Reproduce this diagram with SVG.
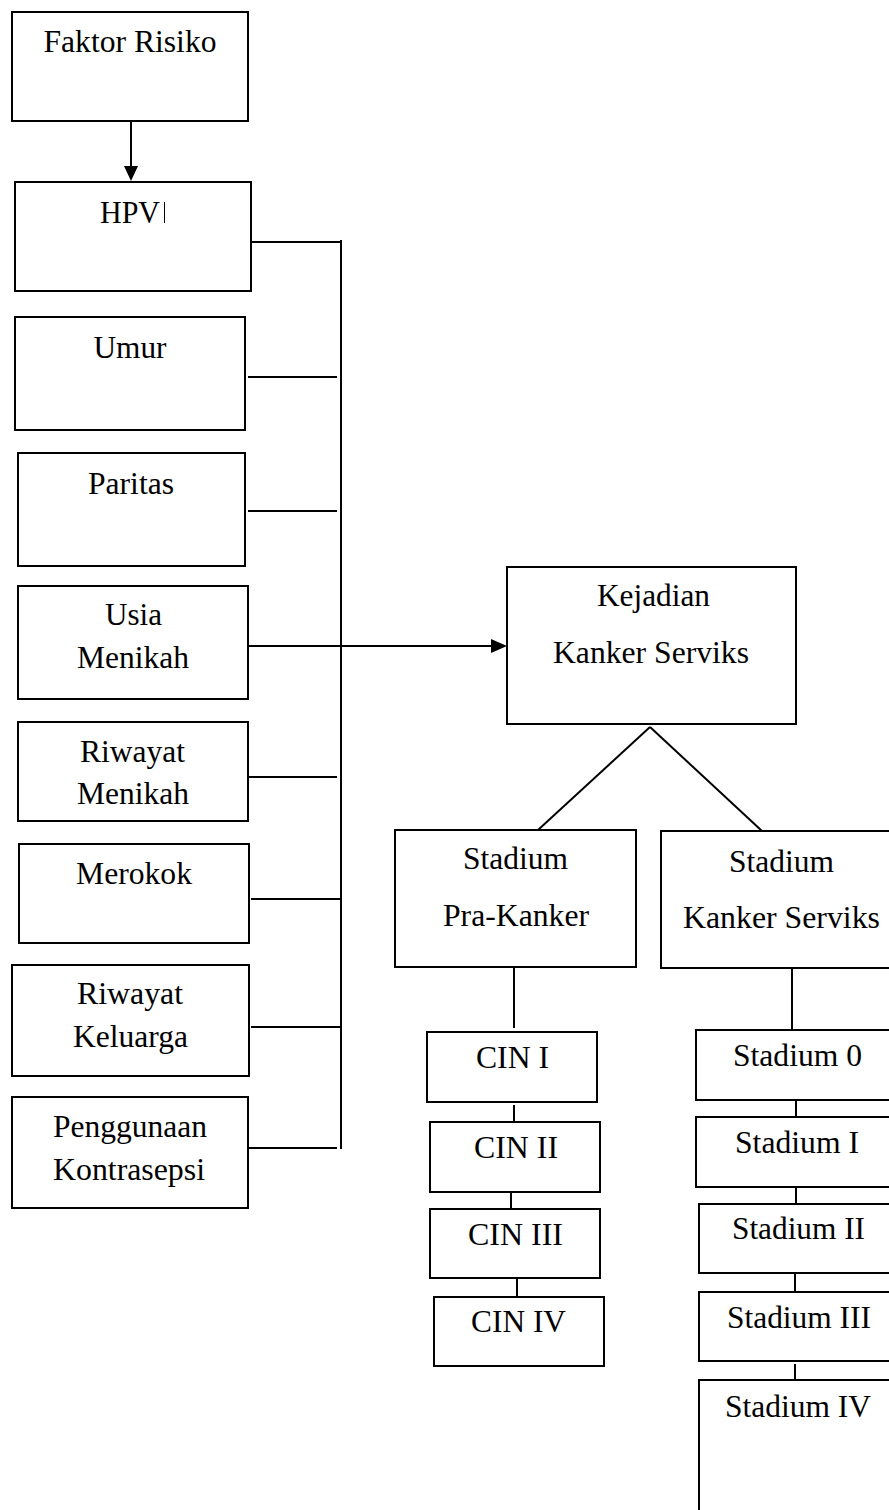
<svg xmlns="http://www.w3.org/2000/svg" width="889" height="1510" viewBox="0 0 889 1510">
<defs>
<style>
.box{fill:#fff;stroke:#000;stroke-width:2}
.t{font-family:"Liberation Serif","Times New Roman",serif;font-size:31px;fill:#000;text-anchor:middle}
.c{stroke:#000;stroke-width:2;fill:none}
</style>
</defs>
<rect width="889" height="1510" fill="#fff"/>

<g id="connectors">
<line class="c" x1="131" y1="121" x2="131" y2="166"/>
<path d="M124,166 L138,166 L131,181 Z" fill="#000"/>
<line class="c" x1="251" y1="242" x2="341" y2="242"/>
<line class="c" x1="341" y1="240" x2="341" y2="1149" stroke-width="2.5"/>
<line class="c" x1="248" y1="377" x2="337" y2="377"/>
<line class="c" x1="248" y1="511" x2="337" y2="511"/>
<line class="c" x1="248" y1="646" x2="492" y2="646"/>
<path d="M491,639 L507,646 L491,653 Z" fill="#000"/>
<line class="c" x1="248" y1="777" x2="337" y2="777"/>
<line class="c" x1="251" y1="899" x2="341" y2="899"/>
<line class="c" x1="251" y1="1027" x2="341" y2="1027"/>
<line class="c" x1="248" y1="1148" x2="337" y2="1148"/>
<line class="c" x1="650" y1="727" x2="538" y2="830" stroke-width="1.6"/>
<line class="c" x1="650" y1="727" x2="762" y2="831" stroke-width="1.6"/>
<line class="c" x1="514" y1="967" x2="514" y2="1028"/>
<line class="c" x1="514" y1="1105" x2="514" y2="1122"/>
<line class="c" x1="511" y1="1192" x2="511" y2="1209"/>
<line class="c" x1="517" y1="1278" x2="517" y2="1297"/>
<line class="c" x1="792" y1="968" x2="792" y2="1030"/>
<line class="c" x1="796" y1="1100" x2="796" y2="1117"/>
<line class="c" x1="796" y1="1187" x2="796" y2="1204"/>
<line class="c" x1="795" y1="1273" x2="795" y2="1292"/>
<line class="c" x1="795" y1="1364" x2="795" y2="1380"/>
</g>

<g id="faktor-risiko">
<rect class="box" x="12" y="12" width="236" height="109"/>
<text class="t" x="130" y="52" textLength="173" lengthAdjust="spacingAndGlyphs">Faktor Risiko</text>
</g>
<g id="hpv">
<rect class="box" x="15" y="182" width="236" height="109"/>
<text class="t" x="130" y="223" textLength="60" lengthAdjust="spacingAndGlyphs">HPV</text>
<line x1="164.5" y1="202" x2="164.5" y2="223" stroke="#000" stroke-width="1"/>
</g>
<g id="umur">
<rect class="box" x="15" y="317" width="230" height="113"/>
<text class="t" x="130" y="358" textLength="73" lengthAdjust="spacingAndGlyphs">Umur</text>
</g>
<g id="paritas">
<rect class="box" x="18" y="453" width="227" height="113"/>
<text class="t" x="131" y="494" textLength="86" lengthAdjust="spacingAndGlyphs">Paritas</text>
</g>
<g id="usia-menikah">
<rect class="box" x="18" y="586" width="230" height="113"/>
<text class="t" x="133.5" y="625" textLength="57" lengthAdjust="spacingAndGlyphs">Usia</text>
<text class="t" x="133" y="668" textLength="112" lengthAdjust="spacingAndGlyphs">Menikah</text>
</g>
<g id="riwayat-menikah">
<rect class="box" x="18" y="722" width="230" height="99"/>
<text class="t" x="132.5" y="762" textLength="105" lengthAdjust="spacingAndGlyphs">Riwayat</text>
<text class="t" x="133" y="804" textLength="112" lengthAdjust="spacingAndGlyphs">Menikah</text>
</g>
<g id="merokok">
<rect class="box" x="19" y="844" width="230" height="99"/>
<text class="t" x="134" y="884" textLength="116" lengthAdjust="spacingAndGlyphs">Merokok</text>
</g>
<g id="riwayat-keluarga">
<rect class="box" x="12" y="965" width="237" height="111"/>
<text class="t" x="130" y="1004" textLength="106" lengthAdjust="spacingAndGlyphs">Riwayat</text>
<text class="t" x="130.5" y="1047" textLength="115" lengthAdjust="spacingAndGlyphs">Keluarga</text>
</g>
<g id="penggunaan-kontrasepsi">
<rect class="box" x="12" y="1097" width="236" height="111"/>
<text class="t" x="130" y="1137" textLength="154" lengthAdjust="spacingAndGlyphs">Penggunaan</text>
<text class="t" x="129" y="1180" textLength="152" lengthAdjust="spacingAndGlyphs">Kontrasepsi</text>
</g>

<g id="kejadian">
<rect class="box" x="507" y="567" width="289" height="157"/>
<text class="t" x="653.5" y="606" textLength="113" lengthAdjust="spacingAndGlyphs">Kejadian</text>
<text class="t" x="651" y="663" textLength="196" lengthAdjust="spacingAndGlyphs">Kanker Serviks</text>
</g>
<g id="stadium-pra-kanker">
<rect class="box" x="395" y="830" width="241" height="137"/>
<text class="t" x="515.5" y="869" textLength="105" lengthAdjust="spacingAndGlyphs">Stadium</text>
<text class="t" x="516" y="926" textLength="146" lengthAdjust="spacingAndGlyphs">Pra-Kanker</text>
</g>
<g id="stadium-kanker-serviks">
<rect class="box" x="661" y="831" width="245" height="137"/>
<text class="t" x="781.5" y="872" textLength="105" lengthAdjust="spacingAndGlyphs">Stadium</text>
<text class="t" x="781.5" y="928" textLength="197" lengthAdjust="spacingAndGlyphs">Kanker Serviks</text>
</g>

<g id="cin-1">
<rect class="box" x="427" y="1032" width="170" height="70"/>
<text class="t" x="512.5" y="1068" textLength="73" lengthAdjust="spacingAndGlyphs">CIN I</text>
</g>
<g id="cin-2">
<rect class="box" x="430" y="1122" width="170" height="70"/>
<text class="t" x="516" y="1158" textLength="84" lengthAdjust="spacingAndGlyphs">CIN II</text>
</g>
<g id="cin-3">
<rect class="box" x="430" y="1209" width="170" height="69"/>
<text class="t" x="515.5" y="1245" textLength="95" lengthAdjust="spacingAndGlyphs">CIN III</text>
</g>
<g id="cin-4">
<rect class="box" x="434" y="1297" width="170" height="69"/>
<text class="t" x="518.5" y="1332" textLength="95" lengthAdjust="spacingAndGlyphs">CIN IV</text>
</g>

<g id="stadium-0">
<rect class="box" x="696" y="1030" width="210" height="70"/>
<text class="t" x="797.5" y="1066" textLength="129" lengthAdjust="spacingAndGlyphs">Stadium 0</text>
</g>
<g id="stadium-1">
<rect class="box" x="696" y="1117" width="210" height="70"/>
<text class="t" x="797" y="1153" textLength="124" lengthAdjust="spacingAndGlyphs">Stadium I</text>
</g>
<g id="stadium-2">
<rect class="box" x="699" y="1204" width="210" height="69"/>
<text class="t" x="798.5" y="1239" textLength="133" lengthAdjust="spacingAndGlyphs">Stadium II</text>
</g>
<g id="stadium-3">
<rect class="box" x="699" y="1292" width="210" height="69"/>
<text class="t" x="799" y="1328" textLength="144" lengthAdjust="spacingAndGlyphs">Stadium III</text>
</g>
<g id="stadium-4">
<rect class="box" x="699" y="1380" width="210" height="140"/>
<text class="t" x="798" y="1417" textLength="146" lengthAdjust="spacingAndGlyphs">Stadium IV</text>
</g>
</svg>
